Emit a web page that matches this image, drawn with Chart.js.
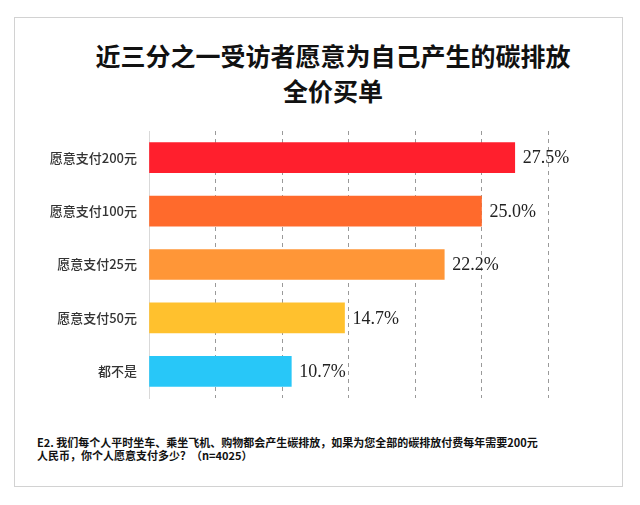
<!DOCTYPE html>
<html>
<head>
<meta charset="utf-8">
<script src="https://cdn.jsdelivr.net/npm/chart.js@4"></script>
<style>
  html, body { margin: 0; padding: 0; background: #fff; }
  body { width: 640px; height: 505px; position: relative; overflow: hidden; }
  #box { position: absolute; left: 14px; top: 17px; width: 609px; height: 470px; border: 1px solid #d2d2d2; box-sizing: border-box; }
  #title { position: absolute; left: 14px; width: 638px; top: 38px; text-align: center;
    font-family: "Noto Sans CJK SC", sans-serif; font-weight: 700; font-size: 25px; line-height: 35px; color: #111; }
  #note { position: absolute; left: 37px; top: 436px; font-family: "Noto Sans CJK SC", sans-serif;
    font-weight: 700; font-size: 11px; line-height: 13px; color: #111; }
  canvas { position: absolute; left: 0; top: 0; }
</style>
</head>
<body>
<div id="box"></div>
<div id="title">近三分之一受访者愿意为自己产生的碳排放<br>全价买单</div>
<div id="note">E2. 我们每个人平时坐车、乘坐飞机、购物都会产生碳排放，如果为您全部的碳排放付费每年需要200元<br>人民币，你个人愿意支付多少？（n=4025）</div>
<canvas id="c" width="640" height="505"></canvas>
<script>
const categories = ["愿意支付200元", "愿意支付100元", "愿意支付25元", "愿意支付50元", "都不是"];
const values = [27.5, 25.0, 22.2, 14.7, 10.7];
const barColors = ["#FF1F2D", "#FF6A2C", "#FF9637", "#FFC12E", "#28C7F8"];
const axisMin = 0, axisMax = 30, axisStep = 5;

const valueLabels = {
  id: "valueLabels",
  afterDatasetsDraw(chart) {
    const ctx = chart.ctx;
    const meta = chart.getDatasetMeta(0);
    ctx.save();
    ctx.font = '18px "Liberation Serif", serif';
    ctx.fillStyle = "#222";
    ctx.textAlign = "left";
    ctx.textBaseline = "middle";
    meta.data.forEach((bar, i) => {
      ctx.fillText(values[i].toFixed(1) + "%", bar.x + 8, bar.y + 1);
    });
    ctx.restore();
  }
};

new Chart(document.getElementById("c"), {
  type: "bar",
  data: {
    labels: categories,
    datasets: [{ data: values, backgroundColor: barColors, borderWidth: 0, barThickness: 30 }]
  },
  options: {
    indexAxis: "y",
    responsive: false,
    animation: false,
    devicePixelRatio: 1,
    layout: { padding: { left: 14, right: 92, top: 131, bottom: 107 } },
    plugins: { legend: { display: false }, tooltip: { enabled: false }, title: { display: false } },
    scales: {
      x: {
        min: axisMin, max: axisMax,
        ticks: { display: false, stepSize: axisStep },
        grid: {
          drawTicks: false,
          color: (c) => (c.tick && c.tick.value === 0) ? "rgba(0,0,0,0)" : "#9a9a9a",
          lineWidth: 1
        },
        border: { display: false, dash: [4, 4] },
        afterFit: (s) => { s.height = 0; }
      },
      y: {
        ticks: { color: "#333", padding: 12, font: { family: '"Noto Sans CJK SC", sans-serif', size: 13, weight: 500 } },
        grid: { display: false, drawTicks: false },
        border: { display: true, color: "#d9d9d9", width: 1 },
        afterFit: (s) => { s.width = 135; }
      }
    }
  },
  plugins: [valueLabels]
});
</script>
</body>
</html>
